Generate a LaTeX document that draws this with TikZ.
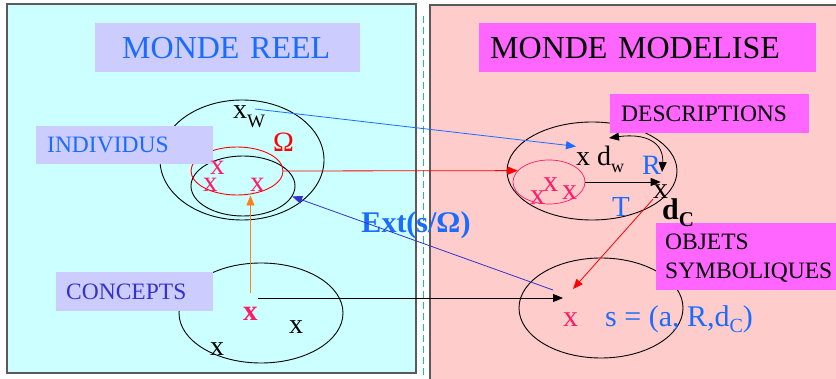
\documentclass[tikz,border=0pt]{standalone}
\usepackage{fontspec}
\setmainfont{Liberation Serif}
\usetikzlibrary{arrows.meta,positioning,shapes.geometric}
\definecolor{reelfond}{HTML}{CCFFFF}
\definecolor{modfond}{HTML}{FFCCCC}
\definecolor{lilas}{HTML}{CCCCFF}
\definecolor{mauve}{HTML}{FF66FF}
\definecolor{bleu}{HTML}{1A6CFF}
\definecolor{bleufonce}{HTML}{3333CC}
\definecolor{rose}{HTML}{FF1A66}
\definecolor{orangec}{HTML}{FF7F1A}
\definecolor{vertd}{HTML}{1FBF8F}
\definecolor{bord}{HTML}{5A5A5A}
\newcommand{\fsz}[1]{\fontsize{#1}{#1}\selectfont}
\newcommand{\lowsub}[3]{\raisebox{-#1pt}{\fsz{#2}#3}}

\begin{document}
\begin{tikzpicture}[x=1pt,y=-1pt,
  lab/.style={anchor=north west, inner ysep=0pt, align=left, font=\fsz{23.5}},
  ell/.style={draw, ellipse, inner sep=0pt, line width=0.9pt},
  mot/.style={anchor=base west, inner sep=0pt, font=\fsz{30}},
  arr/.style={-{Triangle[length=10pt,width=8pt]}, line width=0.8pt}
]
\useasboundingbox (0,0) rectangle (836,379);
\clip (0,0) rectangle (836,379);
% les deux mondes
\draw[bord, line width=1.5pt, fill=reelfond] (7,4) rectangle (416,373);
\draw[bord, line width=1.5pt, fill=modfond] (430,5) rectangle (850,390);
\draw[vertd, line width=1pt, dash pattern=on 7pt off 4pt] (423,16) -- (423,379);

% ensembles
\node[ell, minimum width=164pt, minimum height=120pt] (indell) at (242,160) {};
\node[ell, minimum width=104pt, minimum height=60pt] (extell) at (243,186) {};
\node[ell, red, minimum width=92pt, minimum height=48pt] (omell) at (237,171) {};
\node[ell, minimum width=164pt, minimum height=100pt] (conell) at (261,313) {};
\node[ell, minimum width=170pt, minimum height=98pt] (descell) at (592,171) {};
\node[ell, rose, line width=0.7pt, minimum width=72pt, minimum height=44pt] (pinkell) at (549,182) {};
\node[ell, minimum width=164pt, minimum height=100pt] (objell) at (601,308) {};

% titres et etiquettes
\node[lab, fill=lilas, text=bleu, font=\fsz{32}, minimum height=49pt,
  inner xsep=27pt, text width=211pt] (reel) at (95,23) {MONDE REEL};
\node[lab, fill=mauve, font=\fsz{32}, minimum height=49pt,
  inner xsep=11pt, text width=315pt] (modele) at (479,23) {MONDE MODELISE};
\node[lab, fill=lilas, text=bleu, minimum height=38pt,
  inner xsep=11pt, text width=155pt] (indiv) at (36,126) {INDIVIDUS};
\node[lab, fill=lilas, text=bleufonce, minimum height=39pt,
  inner xsep=10pt, text width=137pt] (concepts) at (56,272) {CONCEPTS};
\node[lab, fill=mauve, minimum height=39pt,
  inner xsep=11pt, text width=177pt] (descr) at (610,94) {DESCRIPTIONS};
\node[lab, fill=mauve, minimum height=67pt, inner xsep=9pt, text width=200pt,
  text depth=29pt] (objets) at (656,223) {OBJETS\\[5.5pt]SYMBOLIQUES};

% elements
\node[mot, font=\fsz{28}] (xw) at (233,119) {x\lowsub{9}{19}{W}};
\node[mot, red, font=\fsz{28}] (omega) at (273,152) {Ω};
\node[mot, rose, font=\fsz{29}] (i1) at (210,175) {x};
\node[mot, rose, font=\fsz{29}] (i2) at (203,192) {x};
\node[mot, rose, font=\fsz{29}] (i3) at (250,192) {x};
\node[mot, rose, font=\fsz{29}\bfseries] (cx) at (243,321) {x};
\node[mot, font=\fsz{28}] (c2) at (289,334) {x};
\node[mot, font=\fsz{28}] (c3) at (210,356) {x};
\node[mot, font=\fsz{28}] (xd) at (576,166) {x d\lowsub{7}{18}{w}};
\node[mot, bleu, font=\fsz{28}] (rlab) at (642,175) {R};
\node[mot, bleu, font=\fsz{29}] (tlab) at (612,217) {T};
\node[mot] (xc) at (653,199) {x};
\node[mot, font=\fsz{30}\bfseries] (dc) at (662,220) {d\lowsub{7}{21}{C}};
\node[mot, rose] (p1) at (530,205) {x};
\node[mot, rose] (p2) at (543,192) {x};
\node[mot, rose] (p3) at (562,200) {x};
\node[mot, rose] (sx) at (563,327) {x};
\node[mot, bleu, font=\fsz{30}] (sdef) at (605,327) {s = (a, R,d\lowsub{6}{20}{C})};
\node[bleu, font=\fsz{30}\bfseries] (ext) at (416,225) {Ext(s/Ω)};

% liens
\coordinate (wdep) at (255,109);
\coordinate (bdep) at (553,290);
\coordinate (kdep) at (258,298);
\coordinate (rfin) at (573,289);
\coordinate (ra) at (609,138);
\coordinate (rb) at (662,172);
\draw[arr, bleu] (wdep) -- (xd.north west);
\draw[arr, red] (omell.east) -- (pinkell.160);
\draw[arr, orangec, shorten <=14pt] (cx.north) -- (cx.north |- omell.south);
\draw[arr, bleufonce] (bdep) -- (extell.-12);
\draw[arr] (kdep) -- (kdep -| sx.west);
\draw[arr] (pinkell.east) -- (pinkell.east -| xc.center);
\draw[arr, red] (xc.south west) -- (rfin);
\draw[{Triangle[length=10pt,width=8pt]}-{Triangle[length=10pt,width=8pt]}, line width=0.8pt]
  (ra) .. controls (645,133) and (664,142) .. (rb);
\end{tikzpicture}
\end{document}
